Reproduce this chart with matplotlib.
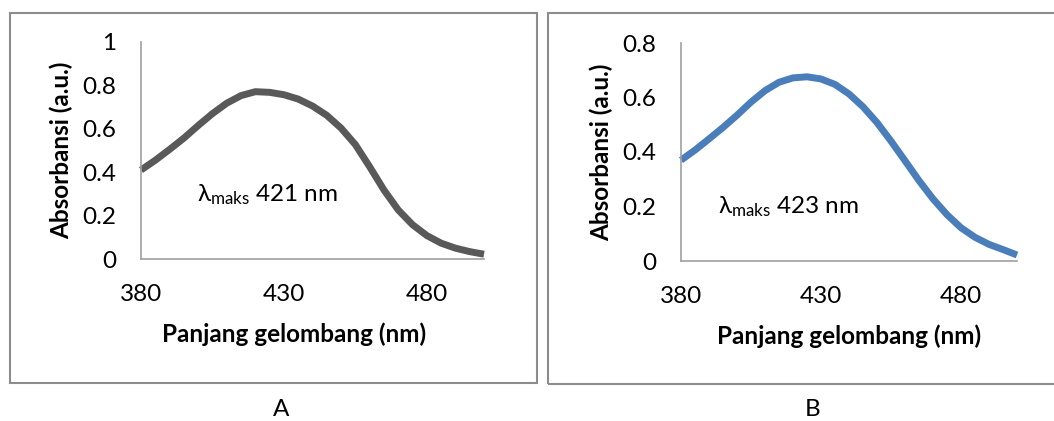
import numpy as np
import matplotlib
matplotlib.use("Agg")
import matplotlib.pyplot as plt
from matplotlib.patches import Rectangle

plt.rcParams['font.family'] = ['Lato', 'DejaVu Sans']
plt.rcParams['mathtext.fontset'] = 'custom'
plt.rcParams['mathtext.rm'] = 'Lato'
plt.rcParams['mathtext.fallback'] = 'stixsans'

# Panjang gelombang (nm)
wavelength = np.arange(380, 501, 5)

# Absorbansi sampel A dan B
abs_a = [0.41, 0.455, 0.505, 0.557, 0.615, 0.67, 0.718, 0.753, 0.771, 0.768,
         0.757, 0.737, 0.705, 0.662, 0.603, 0.527, 0.425, 0.318, 0.226, 0.158,
         0.108, 0.073, 0.05, 0.034, 0.022]
abs_b = [0.37, 0.407, 0.448, 0.49, 0.535, 0.583, 0.625, 0.656, 0.672, 0.676,
         0.668, 0.648, 0.613, 0.566, 0.508, 0.44, 0.368, 0.295, 0.228, 0.17,
         0.122, 0.087, 0.061, 0.042, 0.022]

panels = [
    dict(y=abs_a, color='#595959', ymax=1.0, yticks=[0, 0.2, 0.4, 0.6, 0.8, 1],
         ytl=['0', '0.2', '0.4', '0.6', '0.8', '1'], peak='421',
         pos=[141/1054, 162/421, 343/1054, 217/421], txt=(399.5, 0.295),
         box=(10, 13, 537, 383), letter='A', lx=281, xl=0.446),
    dict(y=abs_b, color='#4a7ebb', ymax=0.8, yticks=[0, 0.2, 0.4, 0.6, 0.8],
         ytl=['0', '0.2', '0.4', '0.6', '0.8'], peak='423',
         pos=[681/1054, 160/421, 336/1054, 218/421], txt=(393.2, 0.198),
         box=(548, 13, 1070, 384), letter='B', lx=813, xl=0.5),
]

fig = plt.figure(figsize=(10.54, 4.21), dpi=100)

for p in panels:
    x0, y0, x1, y1 = p['box']
    fig.patches.append(Rectangle((x0/1054, 1 - y1/421), (x1 - x0)/1054, (y1 - y0)/421,
                                 transform=fig.transFigure, fill=False,
                                 edgecolor='#8c8c8c', lw=1.5))
    ax = fig.add_axes(p['pos'])
    ax.plot(wavelength, p['y'], color=p['color'], lw=5, solid_joinstyle='round',
            solid_capstyle='butt', clip_on=False)
    ax.set_xlim(380, 500)
    ax.set_ylim(0, p['ymax'])
    ax.set_xticks([380, 430, 480])
    ax.set_yticks(p['yticks'])
    ax.set_yticklabels(p['ytl'])
    for s in ['top', 'right']:
        ax.spines[s].set_visible(False)
    for s in ['left', 'bottom']:
        ax.spines[s].set_color('#a0a0a0')
        ax.spines[s].set_linewidth(1.2)
    ax.tick_params(axis='both', length=0, labelsize=17.5, colors='black')
    ax.tick_params(axis='y', pad=18)
    ax.tick_params(axis='x', pad=18)
    ax.set_xlabel('Panjang gelombang (nm)', fontsize=17.5, fontweight='bold')
    ax.xaxis.set_label_coords(p['xl'], -0.29)
    ax.set_ylabel('Absorbansi (a.u.)', fontsize=17.5, fontweight='bold', labelpad=6)
    ax.text(p['txt'][0], p['txt'][1], r'$\mathrm{λ_{maks}}$' + ' ' + p['peak'] + ' nm',
            fontsize=17.5, ha='left', va='center')
    fig.text(p['lx']/1054, 1 - 410/421, p['letter'], fontsize=17.5, ha='center', va='center')

fig.savefig('out.png', dpi=100)
